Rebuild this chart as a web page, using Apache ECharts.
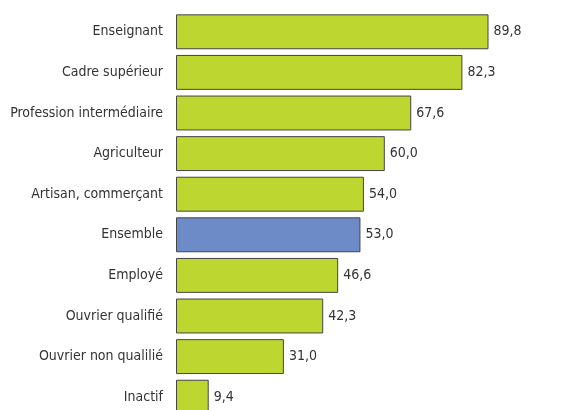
<!DOCTYPE html>
<html>
<head>
<meta charset="utf-8">
<script src="https://cdn.jsdelivr.net/npm/echarts@6/dist/echarts.min.js"></script>
<style>
  html, body { margin: 0; padding: 0; background: #fff; }
  #chart { width: 577px; height: 410px; }
</style>
</head>
<body>
<div id="chart"></div>
<script>
// catégories (de haut en bas) et valeurs
var categories = ['Enseignant', 'Cadre supérieur', 'Profession intermédiaire', 'Agriculteur',
  'Artisan, commerçant', 'Ensemble', 'Employé', 'Ouvrier qualifié', 'Ouvrier non qualilié', 'Inactif']
var values = [89.8, 82.3, 67.6, 60.0, 54.0, 53.0, 46.6, 42.3, 31.0, 9.4]
var highlight = 'Ensemble'

var font = '"Liberation Sans Narrow", "DejaVu Sans Condensed", sans-serif'

var myChart = echarts.init(document.getElementById('chart'))

var barData = values.map(function (v, i) {
  return {
    value: v,
    itemStyle: { color: categories[i] === highlight ? '#6c8bc7' : '#bed730' }
  }
})

var option = {
  animation: false,
  grid: {
    left: 176,
    top: 11.5,
    width: 348,
    height: 406,
    outerBoundsMode: 'none'
  },
  xAxis: {
    type: 'value',
    min: 0,
    max: 100,
    show: false
  },
  yAxis: {
    type: 'category',
    inverse: true,
    data: categories,
    axisLine: { show: false },
    axisTick: { show: false },
    axisLabel: {
      margin: 13,
      color: '#333',
      fontSize: 14,
      fontFamily: font
    }
  },
  series: [
    {
      type: 'bar',
      data: barData,
      barCategoryGap: '14%',
      itemStyle: {
        borderColor: '#454545',
        borderWidth: 1
      },
      label: {
        show: true,
        position: 'right',
        distance: 5,
        color: '#333',
        fontSize: 14,
        fontFamily: font,
        formatter: function (p) {
          return p.value.toFixed(1).replace('.', ',')
        }
      }
    }
  ]
}

myChart.setOption(option)
</script>
</body>
</html>
